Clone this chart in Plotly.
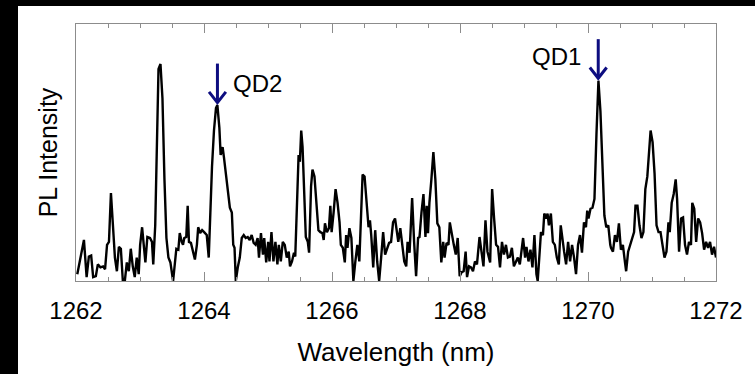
import plotly.graph_objects as go

# ---- data ----
wavelength_nm = [
    1262.020, 1262.124, 1262.166, 1262.201, 1262.237, 1262.268, 1262.310, 1262.341, 1262.382, 1262.423,
    1262.454, 1262.485, 1262.515, 1262.546, 1262.577, 1262.608, 1262.639, 1262.670, 1262.701, 1262.732,
    1262.763, 1262.794, 1262.825, 1262.856, 1262.887, 1262.918, 1262.949, 1262.980, 1263.002, 1263.033,
    1263.063, 1263.084, 1263.115, 1263.156, 1263.187, 1263.207, 1263.238, 1263.259, 1263.289, 1263.320,
    1263.351, 1263.382, 1263.413, 1263.444, 1263.475, 1263.517, 1263.548, 1263.568, 1263.599, 1263.621,
    1263.652, 1263.672, 1263.692, 1263.723, 1263.745, 1263.765, 1263.796, 1263.827, 1263.858, 1263.889,
    1263.909, 1263.940, 1263.971, 1264.002, 1264.043, 1264.074, 1264.094, 1264.125, 1264.156, 1264.187,
    1264.209, 1264.240, 1264.260, 1264.291, 1264.311, 1264.342, 1264.373, 1264.404, 1264.435, 1264.457,
    1264.477, 1264.497, 1264.528, 1264.559, 1264.590, 1264.621, 1264.652, 1264.683, 1264.714, 1264.745,
    1264.776, 1264.807, 1264.838, 1264.859, 1264.890, 1264.921, 1264.941, 1264.972, 1265.003, 1265.023,
    1265.054, 1265.085, 1265.116, 1265.147, 1265.169, 1265.200, 1265.231, 1265.262, 1265.293, 1265.324,
    1265.344, 1265.375, 1265.406, 1265.426, 1265.457, 1265.478, 1265.498, 1265.519, 1265.540, 1265.571,
    1265.591, 1265.622, 1265.642, 1265.673, 1265.695, 1265.726, 1265.757, 1265.788, 1265.819, 1265.850,
    1265.870, 1265.890, 1265.921, 1265.952, 1265.974, 1265.994, 1266.025, 1266.056, 1266.087, 1266.118,
    1266.138, 1266.169, 1266.200, 1266.221, 1266.242, 1266.272, 1266.303, 1266.334, 1266.365, 1266.396,
    1266.427, 1266.458, 1266.478, 1266.509, 1266.540, 1266.571, 1266.593, 1266.613, 1266.644, 1266.675,
    1266.706, 1266.737, 1266.768, 1266.799, 1266.830, 1266.861, 1266.892, 1266.923, 1266.954, 1266.985,
    1267.036, 1267.067, 1267.098, 1267.129, 1267.160, 1267.181, 1267.212, 1267.252, 1267.283, 1267.314,
    1267.345, 1267.367, 1267.398, 1267.429, 1267.460, 1267.480, 1267.500, 1267.522, 1267.553, 1267.584,
    1267.615, 1267.646, 1267.677, 1267.708, 1267.738, 1267.759, 1267.790, 1267.820, 1267.841, 1267.872,
    1267.903, 1267.934, 1267.964, 1267.995, 1268.026, 1268.057, 1268.088, 1268.110, 1268.141, 1268.172,
    1268.203, 1268.234, 1268.265, 1268.305, 1268.336, 1268.367, 1268.398, 1268.429, 1268.471, 1268.502,
    1268.533, 1268.564, 1268.594, 1268.625, 1268.656, 1268.687, 1268.718, 1268.749, 1268.780, 1268.811,
    1268.842, 1268.873, 1268.904, 1268.935, 1268.966, 1268.986, 1269.017, 1269.039, 1269.070, 1269.101,
    1269.132, 1269.163, 1269.194, 1269.214, 1269.245, 1269.265, 1269.296, 1269.317, 1269.348, 1269.368,
    1269.389, 1269.420, 1269.451, 1269.482, 1269.513, 1269.544, 1269.574, 1269.596, 1269.627, 1269.658,
    1269.689, 1269.720, 1269.751, 1269.782, 1269.813, 1269.844, 1269.875, 1269.906, 1269.937, 1269.968,
    1269.988, 1270.008, 1270.039, 1270.070, 1270.101, 1270.132, 1270.163, 1270.194, 1270.225, 1270.256,
    1270.286, 1270.317, 1270.348, 1270.359, 1270.390, 1270.421, 1270.452, 1270.483, 1270.514, 1270.545,
    1270.576, 1270.596, 1270.627, 1270.658, 1270.689, 1270.720, 1270.742, 1270.773, 1270.804, 1270.835,
    1270.866, 1270.896, 1270.927, 1270.958, 1270.978, 1271.009, 1271.040, 1271.071, 1271.102, 1271.133,
    1271.164, 1271.195, 1271.226, 1271.257, 1271.277, 1271.308, 1271.339, 1271.370, 1271.392, 1271.423,
    1271.454, 1271.485, 1271.516, 1271.547, 1271.578, 1271.609, 1271.629, 1271.660, 1271.690, 1271.721,
    1271.752, 1271.783, 1271.814, 1271.845, 1271.876, 1271.907, 1271.938, 1271.969, 1272.000,
]
pl_intensity = [
    7, 42, 4, 25, 26, 4, 5, 17, 14, 15,
    12, 37, 40, 90, 57, 24, 10, 35, 33, 0,
    0, 19, 10, 33, 15, 4, 24, 7, 37, 55,
    34, 19, 45, 44, 40, 17, 57, 137, 217, 222,
    187, 104, 44, 24, 19, 0, 24, 33, 32, 49,
    40, 37, 44, 45, 77, 40, 39, 30, 22, 37,
    55, 49, 52, 50, 47, 24, 70, 117, 154, 177,
    180, 157, 129, 137, 127, 110, 90, 75, 70, 37,
    34, 0, 14, 24, 44, 47, 44, 45, 42, 47,
    39, 37, 44, 24, 49, 27, 44, 19, 40, 20,
    50, 20, 40, 17, 37, 20, 40, 37, 24, 30,
    15, 20, 29, 25, 87, 129, 122, 154, 137, 87,
    45, 40, 29, 97, 114, 107, 77, 52, 50, 49,
    42, 59, 50, 54, 77, 50, 70, 94, 80, 60,
    37, 34, 19, 47, 34, 54, 44, 0, 20, 37,
    20, 74, 109, 107, 80, 55, 62, 47, 14, 52,
    20, 0, 24, 50, 27, 34, 39, 40, 60, 64,
    40, 54, 34, 20, 15, 40, 29, 85, 40, 5,
    44, 45, 70, 89, 45, 77, 49, 80, 104, 132,
    104, 59, 55, 19, 40, 24, 39, 37, 60, 47,
    37, 27, 44, 5, 9, 10, 30, 4, 15, 14,
    10, 20, 17, 45, 30, 15, 62, 30, 19, 94,
    64, 37, 35, 14, 40, 27, 37, 24, 25, 34,
    15, 19, 24, 17, 34, 44, 24, 35, 20, 32,
    14, 47, 7, 0, 30, 50, 47, 69, 64, 69,
    57, 69, 40, 37, 24, 17, 57, 44, 30, 17,
    40, 20, 37, 24, 7, 37, 47, 29, 60, 55,
    72, 64, 74, 75, 84, 150, 205, 174, 110, 67,
    55, 57, 37, 34, 30, 47, 40, 59, 32, 37,
    20, 10, 30, 37, 44, 50, 77, 77, 57, 44,
    50, 94, 107, 144, 154, 142, 110, 57, 50, 50,
    37, 24, 30, 60, 50, 80, 89, 104, 84, 30,
    64, 65, 37, 27, 40, 37, 80, 74, 40, 64,
    60, 49, 32, 40, 34, 40, 27, 35, 24,
]
tick_values = [1262, 1264, 1266, 1268, 1270, 1272]
tick_labels = ["1262", "1264", "1266", "1268", "1270", "1272"]
qd_labels = ["QD2", "QD1"]
qd_wavelength = [1264.21, 1270.16]
qd_peak = [180, 205]

# ---- layout constants ----
W, H = 755, 374
ML, MR, MT, MB = 76, 33, 24, 87
X_RANGE = [1262, 1272]
Y_RANGE = [0, 263]
px_per_nm = (W - ML - MR) / (X_RANGE[1] - X_RANGE[0])
px_per_unit = (H - MT - MB) / (Y_RANGE[1] - Y_RANGE[0])
FONT = "Liberation Sans, Arial, sans-serif"
ARROW = "#0d0d80"
FRAME = "#8c8c8c"

fig = go.Figure()
fig.add_trace(go.Scatter(
    x=wavelength_nm, y=pl_intensity, mode="lines",
    line=dict(color="black", width=2.4), showlegend=False, hoverinfo="skip",
))

shapes = []
annotations = []
for i, (lab, lam, pk) in enumerate(zip(qd_labels, qd_wavelength, qd_peak)):
    tip = pk + 2.5 / px_per_unit
    top = tip + 40 / px_per_unit
    wing_y = tip + 11 / px_per_unit
    dx = 8.5 / px_per_nm
    shapes.append(dict(type="line", xref="x", yref="y", x0=lam, x1=lam, y0=tip, y1=top,
                       line=dict(color=ARROW, width=3)))
    shapes.append(dict(type="path", xref="x", yref="y",
                       path=f"M{lam-dx},{wing_y} L{lam},{tip} L{lam+dx},{wing_y}",
                       line=dict(color=ARROW, width=3)))
    left = (i == 0)
    annotations.append(dict(
        x=lam, y=(tip + top) / 2, xref="x", yref="y", text=lab, showarrow=False,
        xanchor="left" if left else "right", yanchor="middle",
        xshift=14 if left else -15, yshift=0 if left else 2,
        font=dict(family=FONT, size=24, color="black"),
    ))

# black strips at top and left edge of the picture
shapes.append(dict(type="rect", xref="paper", yref="paper", xsizemode="pixel", xanchor=0,
                   x0=-ML - 5, x1=-ML + 18, y0=-1, y1=2, fillcolor="black", line=dict(width=0), layer="above"))
shapes.append(dict(type="rect", xref="paper", yref="paper", ysizemode="pixel", yanchor=1,
                   y0=MT - 6, y1=MT + 5, x0=-1, x1=2, fillcolor="black", line=dict(width=0), layer="above"))

fig.update_layout(
    width=W, height=H,
    margin=dict(l=ML, r=MR, t=MT, b=MB),
    paper_bgcolor="white", plot_bgcolor="white",
    shapes=shapes, annotations=annotations,
    font=dict(family=FONT, color="black"),
    xaxis=dict(
        range=X_RANGE, tickvals=tick_values, ticktext=tick_labels,
        ticks="inside", ticklen=9, tickwidth=1, tickcolor=FRAME,
        showline=True, linecolor=FRAME, linewidth=1, mirror="allticks",
        showgrid=False, zeroline=False, ticklabelstandoff=8,
        tickfont=dict(family=FONT, size=24, color="black"),
        minor=dict(dtick=0.5, ticks="inside", ticklen=4, tickcolor=FRAME, showgrid=False),
        title=dict(text="Wavelength (nm)", font=dict(family=FONT, size=26, color="black"), standoff=20),
    ),
    yaxis=dict(
        range=Y_RANGE, showticklabels=False, ticks="",
        showline=True, linecolor=FRAME, linewidth=1, mirror=True,
        showgrid=False, zeroline=False,
        title=dict(text="PL Intensity", font=dict(family=FONT, size=25, color="black"), standoff=10),
    ),
)

fig.write_html("out.html")
